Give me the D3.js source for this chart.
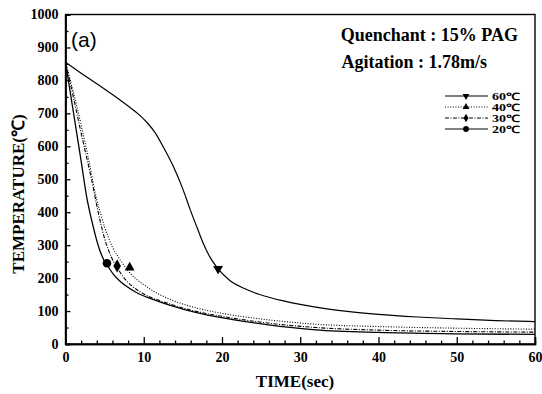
<!DOCTYPE html>
<html><head><meta charset="utf-8">
<script src="https://cdn.jsdelivr.net/npm/d3@7"></script>
<style>body{margin:0;background:#fff}svg{display:block}</style>
</head><body><svg id="c" width="542" height="394"></svg>
<script>
// ---- data ----
const seriesNames = ["60℃","40℃","30℃","20℃"];
const xTicks = [0,10,20,30,40,50,60];
const yTicks = [0,100,200,300,400,500,600,700,800,900,1000];
const s60 = [[0,855],[2,822],[4,790],[6,757],[8,722],[9.5,694],[10.5,670],[11.4,643],[12.5,598],[13.8,538],[15,470],[15.9,410],[17,342],[17.6,306],[18.5,262],[19.5,228],[21,193],[22.5,172],[24,157],[26,142],[28,130],[30,120],[33,108],[36,99],[40,90],[45,82],[50,76],[55,71],[60,68]];
const s40 = [[0,855],[1,765],[2,665],[3,555],[4,437],[4.5,395],[5,355],[5.5,322],[6,294],[7,255],[8,222],[9,198],[10,180],[11,164],[13,139],[16,114],[20,93],[25,76],[32,60],[40,53],[50,48],[60,45]];
const s30 = [[0,855],[1,750],[2,640],[3,535],[3.35,497],[4,420],[5,320],[5.9,262],[6.6,232],[7.5,200],[8.5,176],[10,152],[13,124],[16,103],[20,84],[25,66],[32,50],[40,42],[50,38],[60,36]];
const s20 = [[0,855],[1,705],[2,555],[2.7,447],[3.5,360],[4.3,290],[4.9,255],[5.5,233],[6.1,212],[7,190],[7.8,175],[9,157],[10.4,142],[13,120],[15,106],[17.2,93],[21.4,74],[25.7,59],[32,43],[40,35],[50,31],[60,29]];
const markerPts = [[19.5,228],[8.2,232],[6.6,237],[5.3,245]];

const svg=d3.select("#c");
const x=d3.scaleLinear().domain([0,60]).range([65.5,535]);
const y=d3.scaleLinear().domain([0,1000]).range([344,14.5]);
const serif="'Liberation Serif','Times New Roman',serif";

// frame
svg.append("rect").attr("x",x(0)).attr("y",y(1000)).attr("width",x(60)-x(0)).attr("height",y(0)-y(1000))
  .attr("fill","none").attr("stroke","#000").attr("stroke-width",1.4);

// axes
const xMinor=d3.range(0,61,2).filter(v=>v%10!==0);
const yMinor=d3.range(50,1000,100);
const gx=svg.append("g").attr("transform",`translate(0,${y(0)})`)
  .call(d3.axisBottom(x).tickValues(xTicks).tickSize(-7).tickPadding(8).tickFormat(d3.format("d")));
svg.append("g").attr("transform",`translate(0,${y(0)})`)
  .call(d3.axisBottom(x).tickValues(xMinor).tickSize(-3.5).tickFormat(""));
const gy=svg.append("g").attr("transform",`translate(${x(0)},0)`)
  .call(d3.axisLeft(y).tickValues(yTicks).tickSize(-5).tickPadding(7).tickFormat(d3.format("d")));
svg.append("g").attr("transform",`translate(${x(0)},0)`)
  .call(d3.axisLeft(y).tickValues(yMinor).tickSize(-3).tickFormat(""));
svg.selectAll(".domain").attr("stroke","#000").attr("stroke-width",1.4);
svg.selectAll(".tick line").attr("stroke","#000").attr("stroke-width",1.3);
svg.selectAll(".tick text").attr("font-family",serif).attr("font-weight","bold").attr("font-size",14).attr("fill","#000");
gx.selectAll(".tick text").attr("dy","0.71em");

// axis titles
svg.append("text").attr("x",295).attr("y",387).attr("text-anchor","middle")
  .attr("font-family",serif).attr("font-weight","bold").attr("font-size",17).text("TIME(sec)");
svg.append("text").attr("transform","translate(24,194) rotate(-90)").attr("text-anchor","middle")
  .attr("font-family",serif).attr("font-weight","bold").attr("font-size",17).text("TEMPERATURE(℃)");

// lines
const dashes=[null,"1,1.6","4,1.5,1,1.5",null];
const widths=[1.2,1.1,1.1,1.3];
const line=d3.line().x(d=>x(d[0])).y(d=>y(d[1])).curve(d3.curveMonotoneX);
[s60,s40,s30,s20].forEach((s,i)=>{
  svg.append("path").datum(s).attr("d",line).attr("fill","none").attr("stroke","#000")
    .attr("stroke-width",widths[i]).attr("stroke-dasharray",dashes[i]);
});

// markers
const sym=[
  {t:d3.symbolTriangle,r:180},
  {t:d3.symbolTriangle,r:0},
  {t:d3.symbolDiamond,r:0},
  {t:d3.symbolCircle,r:0}];
const plotSizes=[42,42,50,58], legSizes=[20,20,22,26];
function marker(g,i,px,py,sz){
  g.append("path").attr("d",d3.symbol().type(sym[i].t).size(sz)())
   .attr("transform",`translate(${px},${py}) rotate(${sym[i].r})`).attr("fill","#000");
}
markerPts.forEach((p,i)=>marker(svg,i,x(p[0]),y(p[1]),plotSizes[i]));

// annotations
svg.append("text").attr("x",71).attr("y",47).attr("font-family","'Liberation Sans',Arial,sans-serif")
  .attr("font-size",21).text("(a)");
svg.append("text").attr("x",518).attr("y",41).attr("text-anchor","end").attr("font-family",serif)
  .attr("font-weight","bold").attr("font-size",18).text("Quenchant : 15% PAG");
svg.append("text").attr("x",487).attr("y",68).attr("text-anchor","end").attr("font-family",serif)
  .attr("font-weight","bold").attr("font-size",18).text("Agitation : 1.78m/s");

// legend
const lg=svg.append("g");
seriesNames.forEach((n,i)=>{
  const ly=96+i*11;
  lg.append("line").attr("x1",445).attr("x2",488).attr("y1",ly).attr("y2",ly).attr("stroke","#000")
    .attr("stroke-width",1).attr("stroke-dasharray",dashes[i]);
  marker(lg,i,466,ly,legSizes[i]);
  lg.append("text").attr("x",492).attr("y",ly+3.8).attr("font-family",serif).attr("font-weight","bold")
    .attr("font-size",10).attr("textLength",28).attr("lengthAdjust","spacingAndGlyphs").text(n);
});
</script></body></html>
